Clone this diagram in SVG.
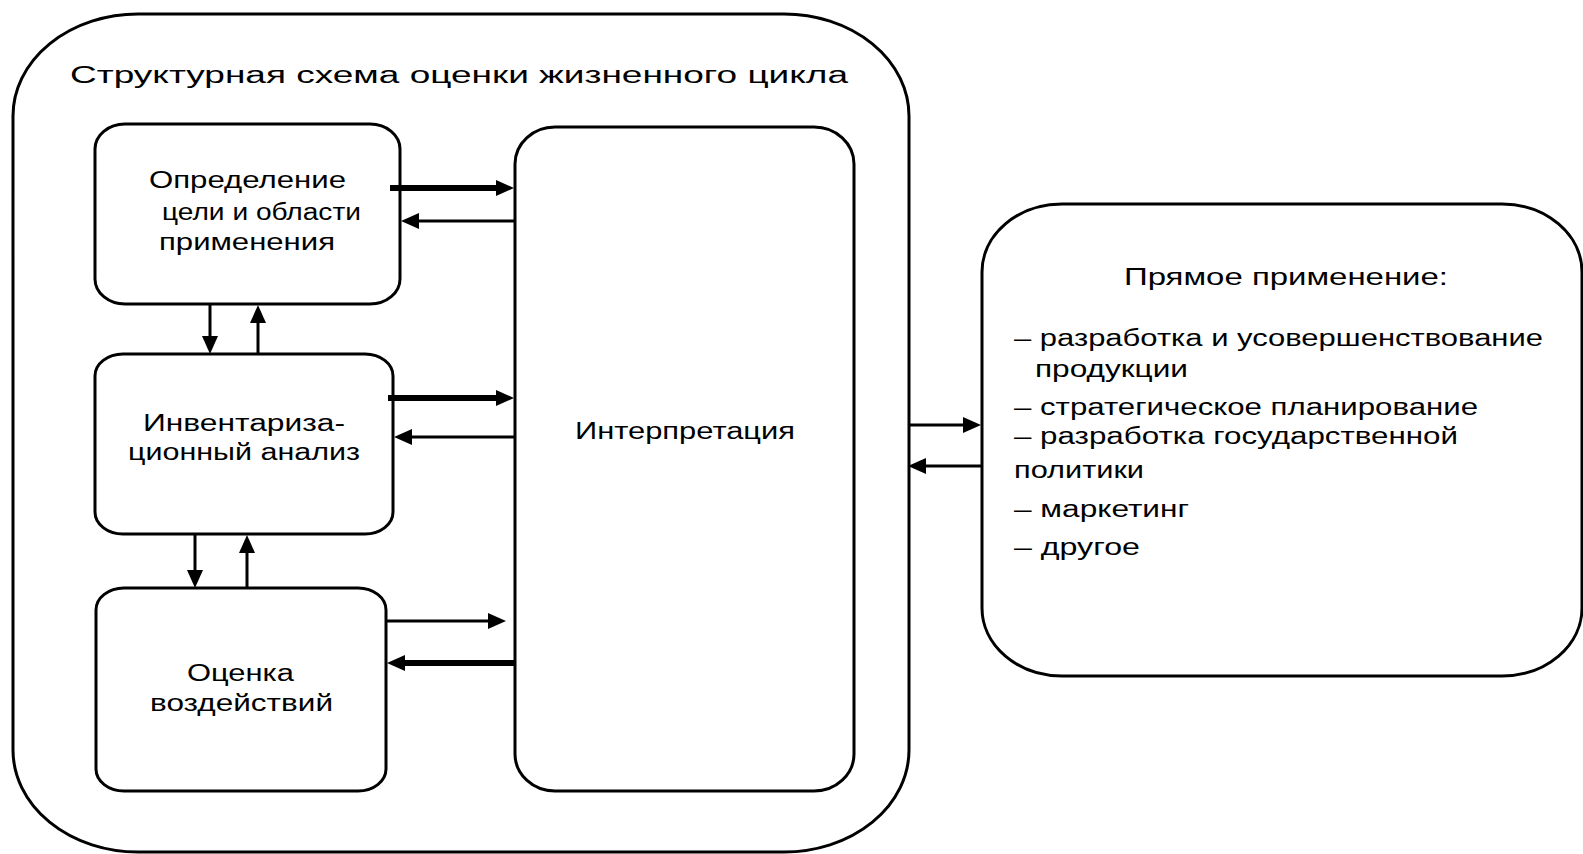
<svg xmlns="http://www.w3.org/2000/svg" width="1583" height="854" viewBox="0 0 1583 854">
<style>
.box{fill:#fff;stroke:#000;stroke-width:3}
.t{font-family:"Liberation Sans",Arial,sans-serif;font-size:23px;fill:#000}
.thin{stroke:#000;stroke-width:3;fill:none}
.thick{stroke:#000;stroke-width:6;fill:none}
</style>
<defs>
<marker id="ah" markerUnits="userSpaceOnUse" markerWidth="18" markerHeight="16" viewBox="0 0 18 16" refX="8" refY="8" orient="auto">
<path d="M0,0 L18,8 L0,16 z" fill="#000"/>
</marker>
</defs>
<rect width="1583" height="854" fill="#fff"/>
<g id="lca-frame">
<rect class="box" x="13" y="14" width="896" height="838" rx="125" ry="102"/>
<text class="t" x="70" y="83" textLength="778" lengthAdjust="spacingAndGlyphs">Структурная схема оценки жизненного цикла</text>
</g>
<g id="goal">
<rect class="box" x="95" y="124" width="305" height="180" rx="30" ry="25"/>
<text class="t" x="149" y="188" textLength="197" lengthAdjust="spacingAndGlyphs">Определение</text>
<text class="t" x="162" y="220" textLength="199" lengthAdjust="spacingAndGlyphs">цели и области</text>
<text class="t" x="159" y="250" textLength="176" lengthAdjust="spacingAndGlyphs">применения</text>
</g>
<g id="inventory">
<rect class="box" x="95" y="354" width="298" height="180" rx="28" ry="22"/>
<text class="t" x="143" y="431" textLength="202" lengthAdjust="spacingAndGlyphs">Инвентариза-</text>
<text class="t" x="128" y="460" textLength="232" lengthAdjust="spacingAndGlyphs">ционный анализ</text>
</g>
<g id="impact">
<rect class="box" x="96" y="588" width="290" height="203" rx="28" ry="22"/>
<text class="t" x="187" y="681" textLength="107" lengthAdjust="spacingAndGlyphs">Оценка</text>
<text class="t" x="150" y="711" textLength="183" lengthAdjust="spacingAndGlyphs">воздействий</text>
</g>
<g id="interpretation">
<rect class="box" x="515" y="127" width="339" height="664" rx="40" ry="37"/>
<text class="t" x="575" y="439" textLength="220" lengthAdjust="spacingAndGlyphs">Интерпретация</text>
</g>
<g id="applications">
<rect class="box" x="982" y="204" width="600" height="472" rx="80" ry="68"/>
<text class="t" x="1124" y="285" textLength="324" lengthAdjust="spacingAndGlyphs">Прямое применение:</text>
<text class="t" x="1014" y="346" textLength="529" lengthAdjust="spacingAndGlyphs">– разработка и усовершенствование</text>
<text class="t" x="1035" y="377" textLength="153" lengthAdjust="spacingAndGlyphs">продукции</text>
<text class="t" x="1014" y="415" textLength="464" lengthAdjust="spacingAndGlyphs">– стратегическое планирование</text>
<text class="t" x="1014" y="444" textLength="444" lengthAdjust="spacingAndGlyphs">– разработка государственной</text>
<text class="t" x="1014" y="478" textLength="130" lengthAdjust="spacingAndGlyphs">политики</text>
<text class="t" x="1014" y="517" textLength="175" lengthAdjust="spacingAndGlyphs">– маркетинг</text>
<text class="t" x="1014" y="555" textLength="126" lengthAdjust="spacingAndGlyphs">– другое</text>
</g>
<g id="connectors">
<line class="thick" x1="390" y1="188" x2="504" y2="188" marker-end="url(#ah)"/>
<line class="thin" x1="515" y1="221" x2="411" y2="221" marker-end="url(#ah)"/>
<line class="thin" x1="210" y1="304" x2="210" y2="344" marker-end="url(#ah)"/>
<line class="thin" x1="258" y1="354" x2="258" y2="315" marker-end="url(#ah)"/>
<line class="thick" x1="388" y1="398" x2="504" y2="398" marker-end="url(#ah)"/>
<line class="thin" x1="515" y1="437" x2="404" y2="437" marker-end="url(#ah)"/>
<line class="thin" x1="195" y1="534" x2="195" y2="578" marker-end="url(#ah)"/>
<line class="thin" x1="247" y1="588" x2="247" y2="545" marker-end="url(#ah)"/>
<line class="thin" x1="386" y1="621" x2="496" y2="621" marker-end="url(#ah)"/>
<line class="thick" x1="515" y1="663" x2="397" y2="663" marker-end="url(#ah)"/>
<line class="thin" x1="909" y1="425" x2="971" y2="425" marker-end="url(#ah)"/>
<line class="thin" x1="982" y1="466" x2="918" y2="466" marker-end="url(#ah)"/>
</g>
</svg>
